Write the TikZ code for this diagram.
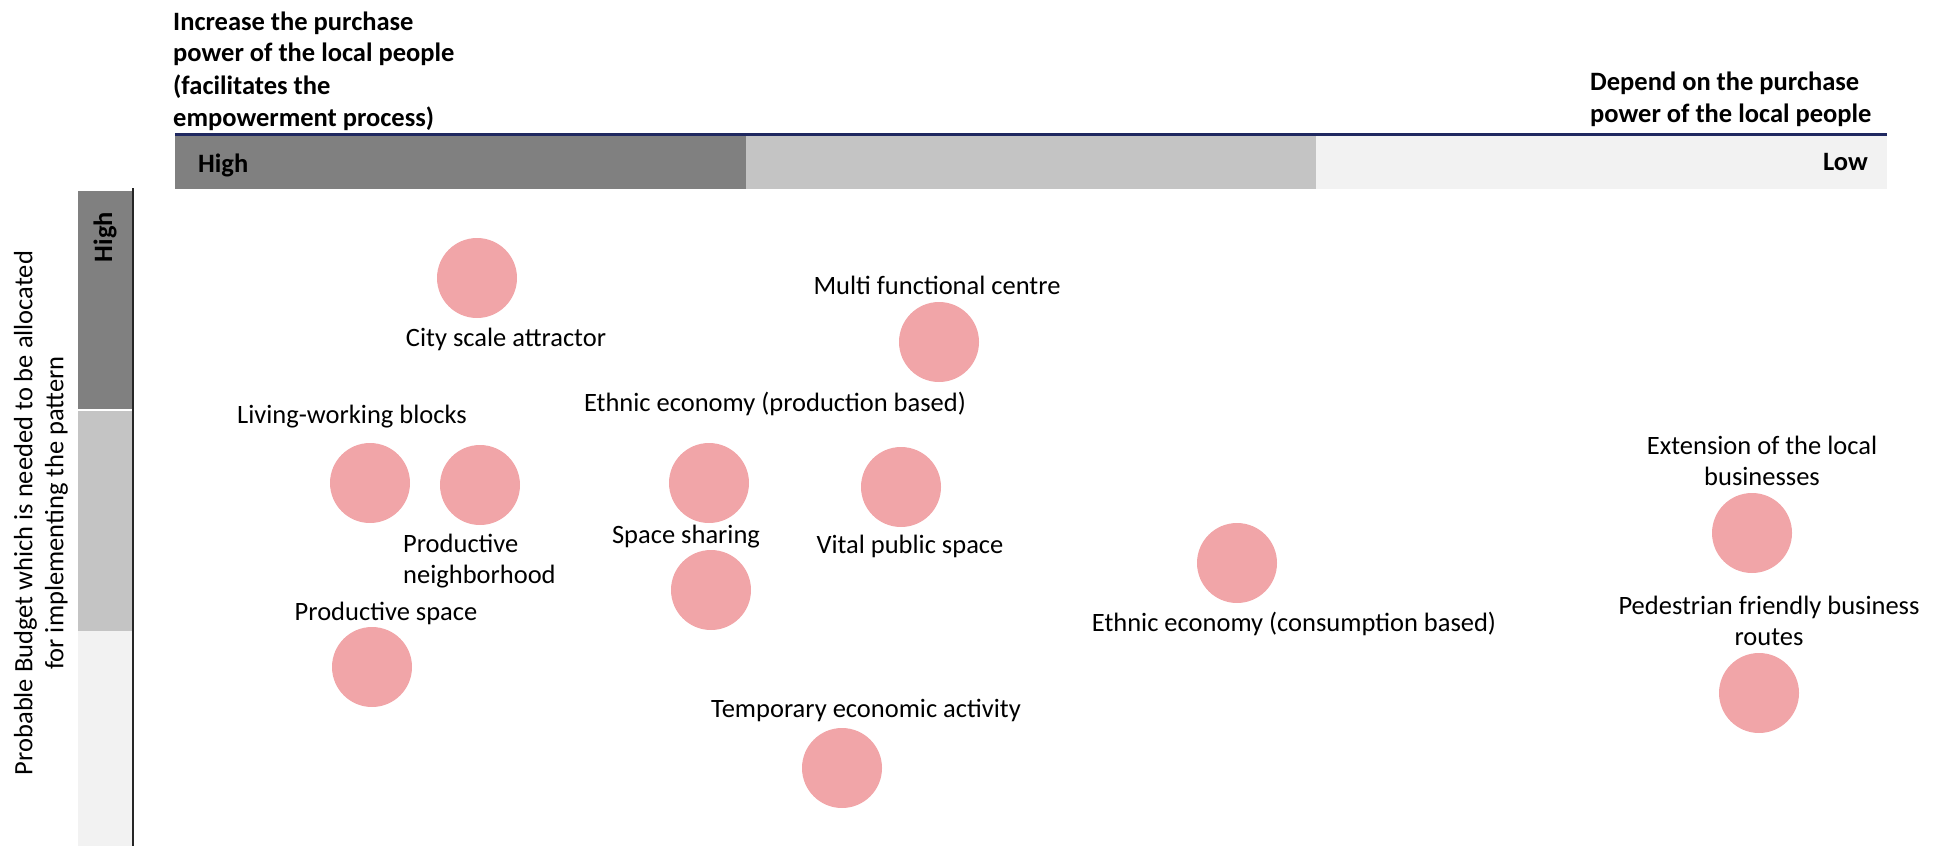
\documentclass[tikz,border=0pt]{standalone}
\usepackage{fontspec}
\setmainfont{Carlito}
\usepackage{tikz}
\definecolor{darkband}{RGB}{128,128,128}
\definecolor{midband}{RGB}{196,196,196}
\definecolor{lightband}{RGB}{242,242,242}
\definecolor{spotpink}{RGB}{241,165,168}
\definecolor{axisnavy}{RGB}{31,40,96}
\tikzset{
 spot/.style={circle,fill=spotpink,minimum size=80pt,inner sep=0pt},
 lab/.style={font=\fontsize{26.5}{31}\selectfont,inner sep=0pt,anchor=base},
 headlab/.style={font=\fontsize{26.5}{32}\selectfont\bfseries,inner sep=0pt,align=left}
}
\begin{document}
\begin{tikzpicture}[x=1pt,y=-1pt]
\useasboundingbox (0,0) rectangle (1950,848);

%top scale
\fill[darkband] (175,134) rectangle (746,189);\fill[midband] (746,134) rectangle (1316,189);\fill[lightband] (1316,134) rectangle (1887,189);
\draw[axisnavy,line width=3pt] (175,134)--(1887,134);

%left scale
\fill[darkband] (78,191) rectangle (132,409);\fill[midband] (78,411) rectangle (132,631);\fill[lightband] (78,631) rectangle (132,846);
\draw[black!85,line width=2pt] (133,188)--(133,846);

\node[headlab,anchor=base west] (gain) at (173,126) {Increase the purchase\\power of the local people\\(facilitates the\\empowerment process)};
\node[headlab,anchor=base west] (depend) at (1590,122) {Depend on the purchase\\power of the local people};
\node[headlab,anchor=base west] (highx) at (198,172) {High};\node[headlab,anchor=base east] (lowx) at (1868,170) {Low};
\node[headlab,rotate=90] (highy) at (105,237) {High};
\node[lab,rotate=90,align=center,anchor=center] (budget) at (41,513) {Probable Budget which is needed to be allocated\\for implementing the pattern};

%patterns
\node[spot] (city) at (477,278) {};\node[lab] (citylab) at (506,346) {City scale attractor};
\node[spot] (multi) at (939,342) {};\node[lab] (multilab) at (937,294) {Multi functional centre};
\node[spot] (living) at (370,483) {};\node[lab] (livinglab) at (352,423) {Living-working blocks};
\node[spot] (prodnb) at (480,485) {};\node[lab,anchor=base west,align=left] (prodnblab) at (403,583) {Productive\\neighborhood};
\node[spot] (ethprod) at (709,483) {};\node[lab] (ethprodlab) at (775,411) {Ethnic economy (production based)};
\node[spot] (vital) at (901,487) {};\node[lab] (vitallab) at (910,553) {Vital public space};
\node[spot] (sharing) at (711,590) {};\node[lab] (sharinglab) at (686,543) {Space sharing};
\node[spot] (prodsp) at (372,667) {};\node[lab] (prodsplab) at (386,620) {Productive space};
\node[spot] (temp) at (842,768) {};\node[lab] (templab) at (866,717) {Temporary economic activity};
\node[spot] (ethcons) at (1237,563) {};\node[lab] (ethconslab) at (1294,631) {Ethnic economy (consumption based)};
\node[spot] (extension) at (1752,533) {};\node[lab,align=center] (extensionlab) at (1762,485) {Extension of the local\\businesses};
\node[spot] (pedestrian) at (1759,693) {};\node[lab,align=center] (pedestrianlab) at (1769,645) {Pedestrian friendly business\\routes};

\end{tikzpicture}
\end{document}
